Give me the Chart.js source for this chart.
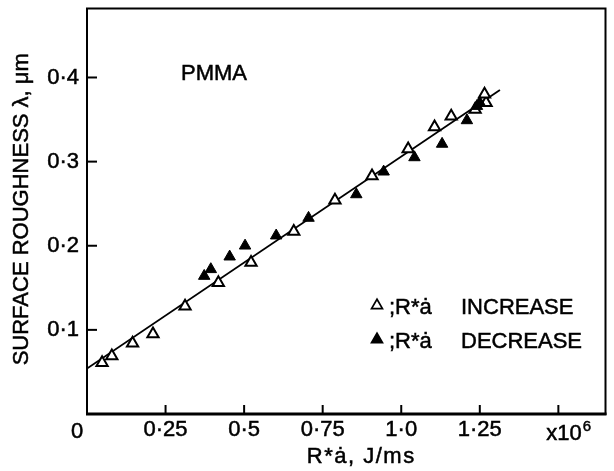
<!DOCTYPE html>
<html>
<head>
<meta charset="utf-8">
<script src="https://cdn.jsdelivr.net/npm/chart.js@4.4.1/dist/chart.umd.min.js"></script>
<style>
    html, body { margin: 0; padding: 0; background: #fff; }
    #wrap { width: 614px; height: 471px; }
</style>
</head>
<body>
<div id="wrap"><canvas id="chart" width="614" height="471"></canvas></div>
<script>
/* global Chart */
// values (x in units of 10^6 J/ms, y in um)
const increaseX = [0.048, 0.079, 0.145, 0.210, 0.312, 0.418, 0.522, 0.658, 0.789, 0.907, 1.022, 1.106, 1.159, 1.235, 1.270, 1.265];
const increaseY = [0.061, 0.069, 0.084, 0.095, 0.128, 0.156, 0.180, 0.217, 0.254, 0.283, 0.315, 0.341, 0.354, 0.362, 0.370, 0.380];

const decreaseX = [0.373, 0.394, 0.454, 0.503, 0.602, 0.705, 0.857, 0.944, 1.042, 1.130, 1.209, 1.241, 1.250];
const decreaseY = [0.164, 0.172, 0.187, 0.200, 0.212, 0.233, 0.261, 0.288, 0.305, 0.321, 0.349, 0.366, 0.370];

const fitX = [0, 1.314];
const fitY = [0.054, 0.385];

const xTickValues = [0, 0.25, 0.5, 0.75, 1.0, 1.25, 1.5];
const xTickLabels = ['0', '0·25', '0·5', '0·75', '1·0', '1·25', 'x10'];
const xExponent = '6';
const yTickValues = [0.1, 0.2, 0.3, 0.4];
const yTickLabels = ['0·1', '0·2', '0·3', '0·4'];

const xTitle = 'R*ȧ, J/ms';
const yTitle = 'SURFACE ROUGHNESS λ, μm';
const materialLabel = 'PMMA';
const legendPrefix = ';R*ȧ';

const FONT = '"Liberation Sans", Arial, sans-serif';
const FS = 22;
const INK = 0.5; // extra stroke so the lettering looks as heavy as the print

function pairs(xs, ys) {
    return xs.map((x, i) => ({ x: x, y: ys[i] }));
}

function text(ctx, s, x, y) {
    ctx.fillText(s, x, y);
    ctx.strokeText(s, x, y);
}

function triangle(ctx, cx, cy, r, filled) {
    ctx.beginPath();
    for (let k = 0; k < 3; k++) {
        const a = k * 2 * Math.PI / 3;
        const px = cx + Math.sin(a) * r;
        const py = cy - Math.cos(a) * r;
        if (k === 0) ctx.moveTo(px, py); else ctx.lineTo(px, py);
    }
    ctx.closePath();
    ctx.fillStyle = filled ? '#000' : '#fff';
    ctx.fill();
    ctx.lineWidth = 1.7;
    ctx.strokeStyle = '#000';
    ctx.stroke();
}

function noPad(s) {
    s.paddingTop = 0;
    s.paddingBottom = 0;
    s.paddingLeft = 0;
    s.paddingRight = 0;
}

const paperPlugin = {
    id: 'paper',
    beforeDraw(chart) {
        const ctx = chart.ctx;
        ctx.save();
        ctx.fillStyle = '#fff';
        ctx.fillRect(0, 0, chart.width, chart.height);
        ctx.restore();
    },
    afterDraw(chart) {
        const ctx = chart.ctx;
        const a = chart.chartArea;
        const xs = chart.scales.x;
        const ys = chart.scales.y;
        ctx.save();
        ctx.strokeStyle = '#000';

        // frame
        ctx.lineWidth = 2;
        ctx.strokeRect(a.left, a.top, a.right - a.left, a.bottom - a.top);
        ctx.lineWidth = 3;
        ctx.beginPath();
        ctx.moveTo(a.left - 1, a.bottom);
        ctx.lineTo(a.right + 1, a.bottom);
        ctx.stroke();

        // inward ticks
        ctx.lineWidth = 2;
        xs.ticks.forEach(t => {
            if (t.value === 0) return;
            const px = xs.getPixelForValue(t.value);
            ctx.beginPath();
            ctx.moveTo(px, a.bottom);
            ctx.lineTo(px, a.bottom - 9);
            ctx.stroke();
        });
        ys.ticks.forEach(t => {
            const py = ys.getPixelForValue(t.value);
            ctx.beginPath();
            ctx.moveTo(a.left, py);
            ctx.lineTo(a.left + 10, py);
            ctx.stroke();
        });

        ctx.fillStyle = '#000';
        ctx.lineWidth = INK;
        ctx.textBaseline = 'alphabetic';

        // origin label and multiplier
        ctx.font = FS + 'px ' + FONT;
        ctx.textAlign = 'center';
        text(ctx, xTickLabels[0], xs.getPixelForValue(0) - 10, a.bottom + 24);
        const mx = xs.getPixelForValue(xTickValues[xTickValues.length - 1]);
        ctx.textAlign = 'left';
        text(ctx, xTickLabels[xTickLabels.length - 1], mx - 12, a.bottom + 26);
        const mw = ctx.measureText(xTickLabels[xTickLabels.length - 1]).width;
        ctx.font = '15px ' + FONT;
        text(ctx, xExponent, mx - 12 + mw + 1, a.bottom + 17);

        // axis titles
        ctx.font = FS + 'px ' + FONT;
        ctx.textAlign = 'center';
        if ('letterSpacing' in ctx) ctx.letterSpacing = '1.5px';
        text(ctx, xTitle, (a.left + a.right) / 2 + 15, a.bottom + 49);
        if ('letterSpacing' in ctx) ctx.letterSpacing = '0px';

        ctx.save();
        ctx.translate(28, (a.top + a.bottom) / 2 - 2);
        ctx.rotate(-Math.PI / 2);
        ctx.textAlign = 'center';
        text(ctx, yTitle, 0, 0);
        ctx.restore();

        // material label
        ctx.textAlign = 'left';
        text(ctx, materialLabel, a.left + 94, a.top + 71);

        // legend
        const rows = [
            { ds: chart.data.datasets[0], filled: false, y: a.top + 297 },
            { ds: chart.data.datasets[1], filled: true, y: a.top + 331 },
        ];
        rows.forEach(r => {
            triangle(ctx, a.left + 290, r.y, 6.3, r.filled);
            ctx.fillStyle = '#000';
            ctx.lineWidth = INK;
            ctx.font = FS + 'px ' + FONT;
            ctx.textAlign = 'left';
            text(ctx, legendPrefix, a.left + 302, r.y + 8);
            text(ctx, r.ds.label, a.left + 374, r.y + 8);
        });

        ctx.restore();
    },
};

const ctx = document.getElementById('chart').getContext('2d');
new Chart(ctx, {
    type: 'scatter',
    data: {
        datasets: [
            {
                label: 'INCREASE',
                data: pairs(increaseX, increaseY),
                pointStyle: 'triangle',
                pointRadius: 6.5,
                pointBackgroundColor: '#fff',
                pointBorderColor: '#000',
                pointBorderWidth: 2,
                order: 2,
            },
            {
                label: 'DECREASE',
                data: pairs(decreaseX, decreaseY),
                pointStyle: 'triangle',
                pointRadius: 6.6,
                pointBackgroundColor: '#000',
                pointBorderColor: '#000',
                pointBorderWidth: 1,
                order: 1,
            },
            {
                label: 'fit',
                data: pairs(fitX, fitY),
                showLine: true,
                pointRadius: 0,
                borderColor: '#000',
                borderWidth: 1.8,
                fill: false,
                order: 3,
            },
        ],
    },
    options: {
        responsive: false,
        animation: false,
        events: [],
        layout: { padding: { top: 7, right: 4, left: 0, bottom: 0 } },
        plugins: {
            legend: { display: false },
            tooltip: { enabled: false },
        },
        scales: {
            x: {
                type: 'linear',
                min: 0,
                max: 1.65,
                afterBuildTicks: s => { s.ticks = xTickValues.map(v => ({ value: v })); },
                afterFit: s => { s.height = 57; noPad(s); },
                grid: { display: false, drawTicks: false },
                border: { display: false },
                ticks: {
                    autoSkip: false,
                    maxRotation: 0,
                    padding: 3,
                    color: '#000',
                    textStrokeColor: '#000',
                    textStrokeWidth: INK,
                    font: { family: FONT, size: FS },
                    callback: (v, i) => (i === 0 || i === xTickLabels.length - 1) ? '' : xTickLabels[i],
                },
            },
            y: {
                type: 'linear',
                min: 0,
                max: 0.482,
                afterBuildTicks: s => { s.ticks = yTickValues.map(v => ({ value: v })); },
                afterFit: s => { s.width = 87; noPad(s); },
                grid: { display: false, drawTicks: false },
                border: { display: false },
                ticks: {
                    padding: 8,
                    color: '#000',
                    textStrokeColor: '#000',
                    textStrokeWidth: INK,
                    font: { family: FONT, size: FS },
                    callback: (v, i) => yTickLabels[i],
                },
            },
        },
    },
    plugins: [paperPlugin],
});
</script>
</body>
</html>
